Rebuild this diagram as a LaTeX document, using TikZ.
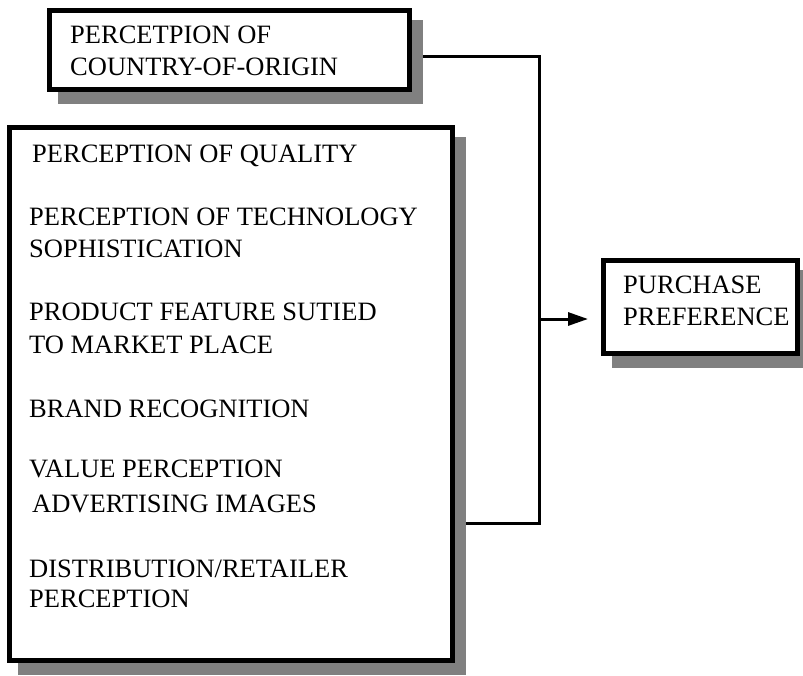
\documentclass[tikz,border=0pt]{standalone}
\usepackage{fontspec}
\setmainfont{Liberation Serif}
\usetikzlibrary{arrows.meta,backgrounds}
\definecolor{shadowgray}{HTML}{808080}
\tikzset{
  box/.style={draw=black, fill=white, line width=5pt, inner sep=0pt, rectangle},
  lbl/.style={anchor=base west, inner sep=0pt, font=\fontsize{26.5}{32}\selectfont},
  conn/.style={line width=3pt, draw=black},
  shadowfill/.style={fill=shadowgray},
}
\begin{document}
\begin{tikzpicture}[x=1pt,y=-1pt]
\useasboundingbox (0,0) rectangle (803,675);
% boxes
\node[box, minimum width=360pt, minimum height=79pt] (coo) at (229.5,50) {};
\node[box, minimum width=443pt, minimum height=533pt] (attr) at (231,394) {};
\node[box, minimum width=194pt, minimum height=93pt] (pp) at (700.5,307) {};
% texts
\node[lbl] (t1) at (70,43) {PERCETPION OF};
\node[lbl] (t2) at (70,75) {COUNTRY-OF-ORIGIN};
\node[lbl] (a1) at (32,162) {PERCEPTION OF QUALITY};
\node[lbl] (a2) at (29,225) {PERCEPTION OF TECHNOLOGY};
\node[lbl] (a3) at (29,257) {SOPHISTICATION};
\node[lbl] (a4) at (29,320) {PRODUCT FEATURE SUTIED};
\node[lbl] (a5) at (29,353) {TO MARKET PLACE};
\node[lbl] (a6) at (29,417) {BRAND RECOGNITION};
\node[lbl] (a7) at (29,477) {VALUE PERCEPTION};
\node[lbl] (a8) at (32,512) {ADVERTISING IMAGES};
\node[lbl] (a9) at (29,577) {DISTRIBUTION/RETAILER};
\node[lbl] (a10) at (29,607) {PERCEPTION};
\node[lbl] (p1) at (623,293) {PURCHASE};
\node[lbl] (p2) at (623,325) {PREFERENCE};
\coordinate (jtop) at (539,56);
\coordinate (jbot) at (539,523);
\coordinate (jmid) at (539,319);
\begin{pgfonlayer}{background}
  % connectors
  \draw[conn, line join=miter] (jtop -| coo.east) -- (jtop) -- (jbot) -- (jbot -| attr.east);
  \draw[conn, shorten >=13pt, -{Triangle[length=20pt,width=13pt]}] (jmid) -- (jmid -| pp.west);
  % shadows
  \fill[shadowfill] ([shift={(11,12)}]coo.south west) rectangle ([shift={(11,12)}]coo.north east);
  \fill[shadowfill] ([shift={(11,12)}]attr.south west) rectangle ([shift={(11,12)}]attr.north east);
  \fill[shadowfill] ([shift={(11,12)}]pp.south west) rectangle ([shift={(11,12)}]pp.north east);
\end{pgfonlayer}
\end{tikzpicture}
\end{document}
